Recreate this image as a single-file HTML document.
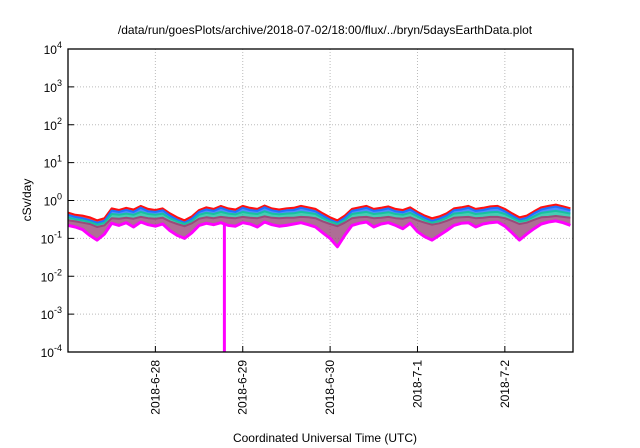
<!DOCTYPE html>
<html><head><meta charset="utf-8"><style>
body{margin:0;background:#fff;}
svg{display:block;font-family:"Liberation Sans",sans-serif;}
</style></head><body>
<svg id="chart" width="640" height="448">
<text x="325" y="34" text-anchor="middle" font-size="12">/data/run/goesPlots/archive/2018-07-02/18:00/flux/../bryn/5daysEarthData.plot</text>
<text x="325" y="442" text-anchor="middle" font-size="12">Coordinated Universal Time (UTC)</text>
<text transform="translate(31,200) rotate(-90)" text-anchor="middle" font-size="12">cSv/day</text>
<g id="grid"></g><g id="series"></g><g id="axes"></g>
</svg>
<script>
const xTickLabels=["2018-6-28","2018-6-29","2018-6-30","2018-7-1","2018-7-2"];
const xTickDays=[1,2,3,4,5];
const yTickExps=[-4,-3,-2,-1,0,1,2,3,4];
const red=[0.48,0.42,0.4,0.36,0.3,0.34,0.62,0.56,0.64,0.58,0.72,0.6,0.56,0.62,0.46,0.36,0.3,0.38,0.56,0.66,0.6,0.72,0.62,0.58,0.72,0.64,0.6,0.74,0.62,0.58,0.62,0.64,0.72,0.66,0.6,0.46,0.36,0.3,0.4,0.6,0.66,0.72,0.6,0.64,0.7,0.6,0.56,0.66,0.5,0.4,0.34,0.38,0.46,0.62,0.66,0.72,0.6,0.64,0.7,0.72,0.6,0.46,0.36,0.4,0.52,0.66,0.72,0.78,0.7,0.62];
const blue=[0.42,0.37,0.34,0.3,0.26,0.29,0.54,0.5,0.56,0.5,0.64,0.52,0.5,0.55,0.4,0.31,0.26,0.33,0.5,0.58,0.53,0.64,0.54,0.5,0.64,0.56,0.53,0.66,0.55,0.51,0.55,0.56,0.64,0.58,0.52,0.4,0.31,0.26,0.35,0.53,0.58,0.64,0.53,0.56,0.62,0.52,0.49,0.58,0.44,0.35,0.29,0.33,0.4,0.55,0.58,0.64,0.53,0.56,0.62,0.64,0.52,0.4,0.31,0.35,0.46,0.58,0.64,0.69,0.62,0.55];
const green=[0.36,0.32,0.3,0.27,0.23,0.26,0.44,0.42,0.45,0.42,0.5,0.44,0.42,0.45,0.34,0.28,0.24,0.29,0.42,0.47,0.44,0.5,0.45,0.43,0.5,0.46,0.44,0.52,0.45,0.43,0.45,0.46,0.5,0.47,0.44,0.34,0.28,0.24,0.3,0.44,0.47,0.5,0.44,0.46,0.49,0.44,0.42,0.47,0.38,0.3,0.26,0.29,0.35,0.45,0.47,0.5,0.44,0.46,0.49,0.5,0.44,0.35,0.28,0.3,0.38,0.47,0.5,0.53,0.49,0.45];
const purple=[0.3,0.28,0.26,0.24,0.2,0.22,0.34,0.33,0.35,0.33,0.37,0.34,0.33,0.35,0.28,0.24,0.21,0.25,0.33,0.36,0.34,0.37,0.35,0.34,0.37,0.35,0.34,0.38,0.35,0.34,0.35,0.35,0.37,0.36,0.34,0.28,0.24,0.21,0.26,0.34,0.36,0.37,0.34,0.35,0.37,0.34,0.33,0.36,0.3,0.26,0.23,0.25,0.29,0.35,0.36,0.37,0.34,0.35,0.37,0.37,0.34,0.29,0.24,0.26,0.31,0.36,0.37,0.39,0.37,0.35];
const magenta=[0.22,0.2,0.17,0.12,0.09,0.13,0.25,0.22,0.26,0.2,0.27,0.23,0.21,0.24,0.16,0.12,0.1,0.14,0.22,0.25,0.23,0.26,0.22,0.21,0.26,0.24,0.2,0.27,0.23,0.21,0.22,0.24,0.26,0.23,0.2,0.14,0.1,0.06,0.12,0.22,0.25,0.27,0.2,0.24,0.26,0.22,0.18,0.25,0.15,0.11,0.09,0.12,0.16,0.22,0.25,0.26,0.2,0.24,0.26,0.27,0.21,0.14,0.09,0.13,0.18,0.24,0.27,0.29,0.26,0.22];
const seriesColors=["#ff00ff","#9a4a7a","#18c0a0","#2070ff","#ff1010"];
const spikeDays=[1.79];
const spikeVals=[0.0001];
const X0=68,X1=573,Y0=352,Y1=49,DMAX=5.78;
const xs=d=>X0+(d/DMAX)*(X1-X0);
const ys=v=>Y0-(Math.log10(v)+4)/8*(Y0-Y1);
const NS="http://www.w3.org/2000/svg";
function mk(t,a,p){const e=document.createElementNS(NS,t);for(const k in a)e.setAttribute(k,a[k]);p.appendChild(e);return e;}
const grid=document.getElementById('grid'),axes=document.getElementById('axes'),ser=document.getElementById('series');
yTickExps.forEach(e=>{const y=ys(Math.pow(10,e));
 if(e>-4&&e<4){const g=mk('line',{x1:X0,x2:X1,y1:y,y2:y,stroke:'#bbb','stroke-dasharray':'1,2','stroke-width':1},grid);
 
 }
 const tk=mk('line',{x1:X0,x2:X0+6,y1:y,y2:y,stroke:'#000'},axes);
 
 
 const t=mk('text',{x:X0-6,y:y+5,'text-anchor':'end','font-size':12},axes);
 
 
 t.innerHTML='10<tspan dy="-6" font-size="9">'+e+'</tspan>';});
xTickDays.forEach((d,i)=>{const x=xs(d);
 const g=mk('line',{x1:x,x2:x,y1:Y1,y2:Y0,stroke:'#bbb','stroke-dasharray':'1,2'},grid);
 
 
 const tk=mk('line',{x1:x,x2:x,y1:Y0,y2:Y0-6,stroke:'#000'},axes);
 
 
 const t=mk('text',{transform:'translate('+(x+4)+','+(Y0+8)+') rotate(-90)','text-anchor':'end','font-size':12},axes);
 
 
 t.textContent=xTickLabels[i];});
const fr=mk('rect',{x:X0,y:Y1,width:X1-X0,height:Y0-Y1,fill:'none',stroke:'#000','stroke-width':1.3},axes);


const all=[magenta,purple,green,blue,red];
const ptsOf=arr=>arr.map((v,i)=>xs(Math.min(i/12,DMAX)).toFixed(1)+','+ys(v).toFixed(1));
// filled bands between adjacent series
[4,3,2,1].forEach(si=>{const up=ptsOf(all[si]),lo=ptsOf(all[si-1]).reverse();
 const b=mk('polygon',{points:up.concat(lo).join(' '),fill:seriesColors[si],'fill-opacity':0.8,stroke:'none'},ser);
 
 });
[4,3,2,1,0].forEach(si=>{
 const p=mk('polyline',{points:ptsOf(all[si]).join(' '),fill:'none',stroke:seriesColors[si],'stroke-width':si===0?3:2,'stroke-linejoin':'round'},ser);
 
 });
spikeDays.forEach((d,i)=>{const idx=Math.round(d*12);
 const l=mk('line',{x1:xs(d),x2:xs(d),y1:ys(magenta[idx]),y2:ys(spikeVals[i]),stroke:'#ff00ff','stroke-width':3},ser);
 
 });
</script>
</body></html>
